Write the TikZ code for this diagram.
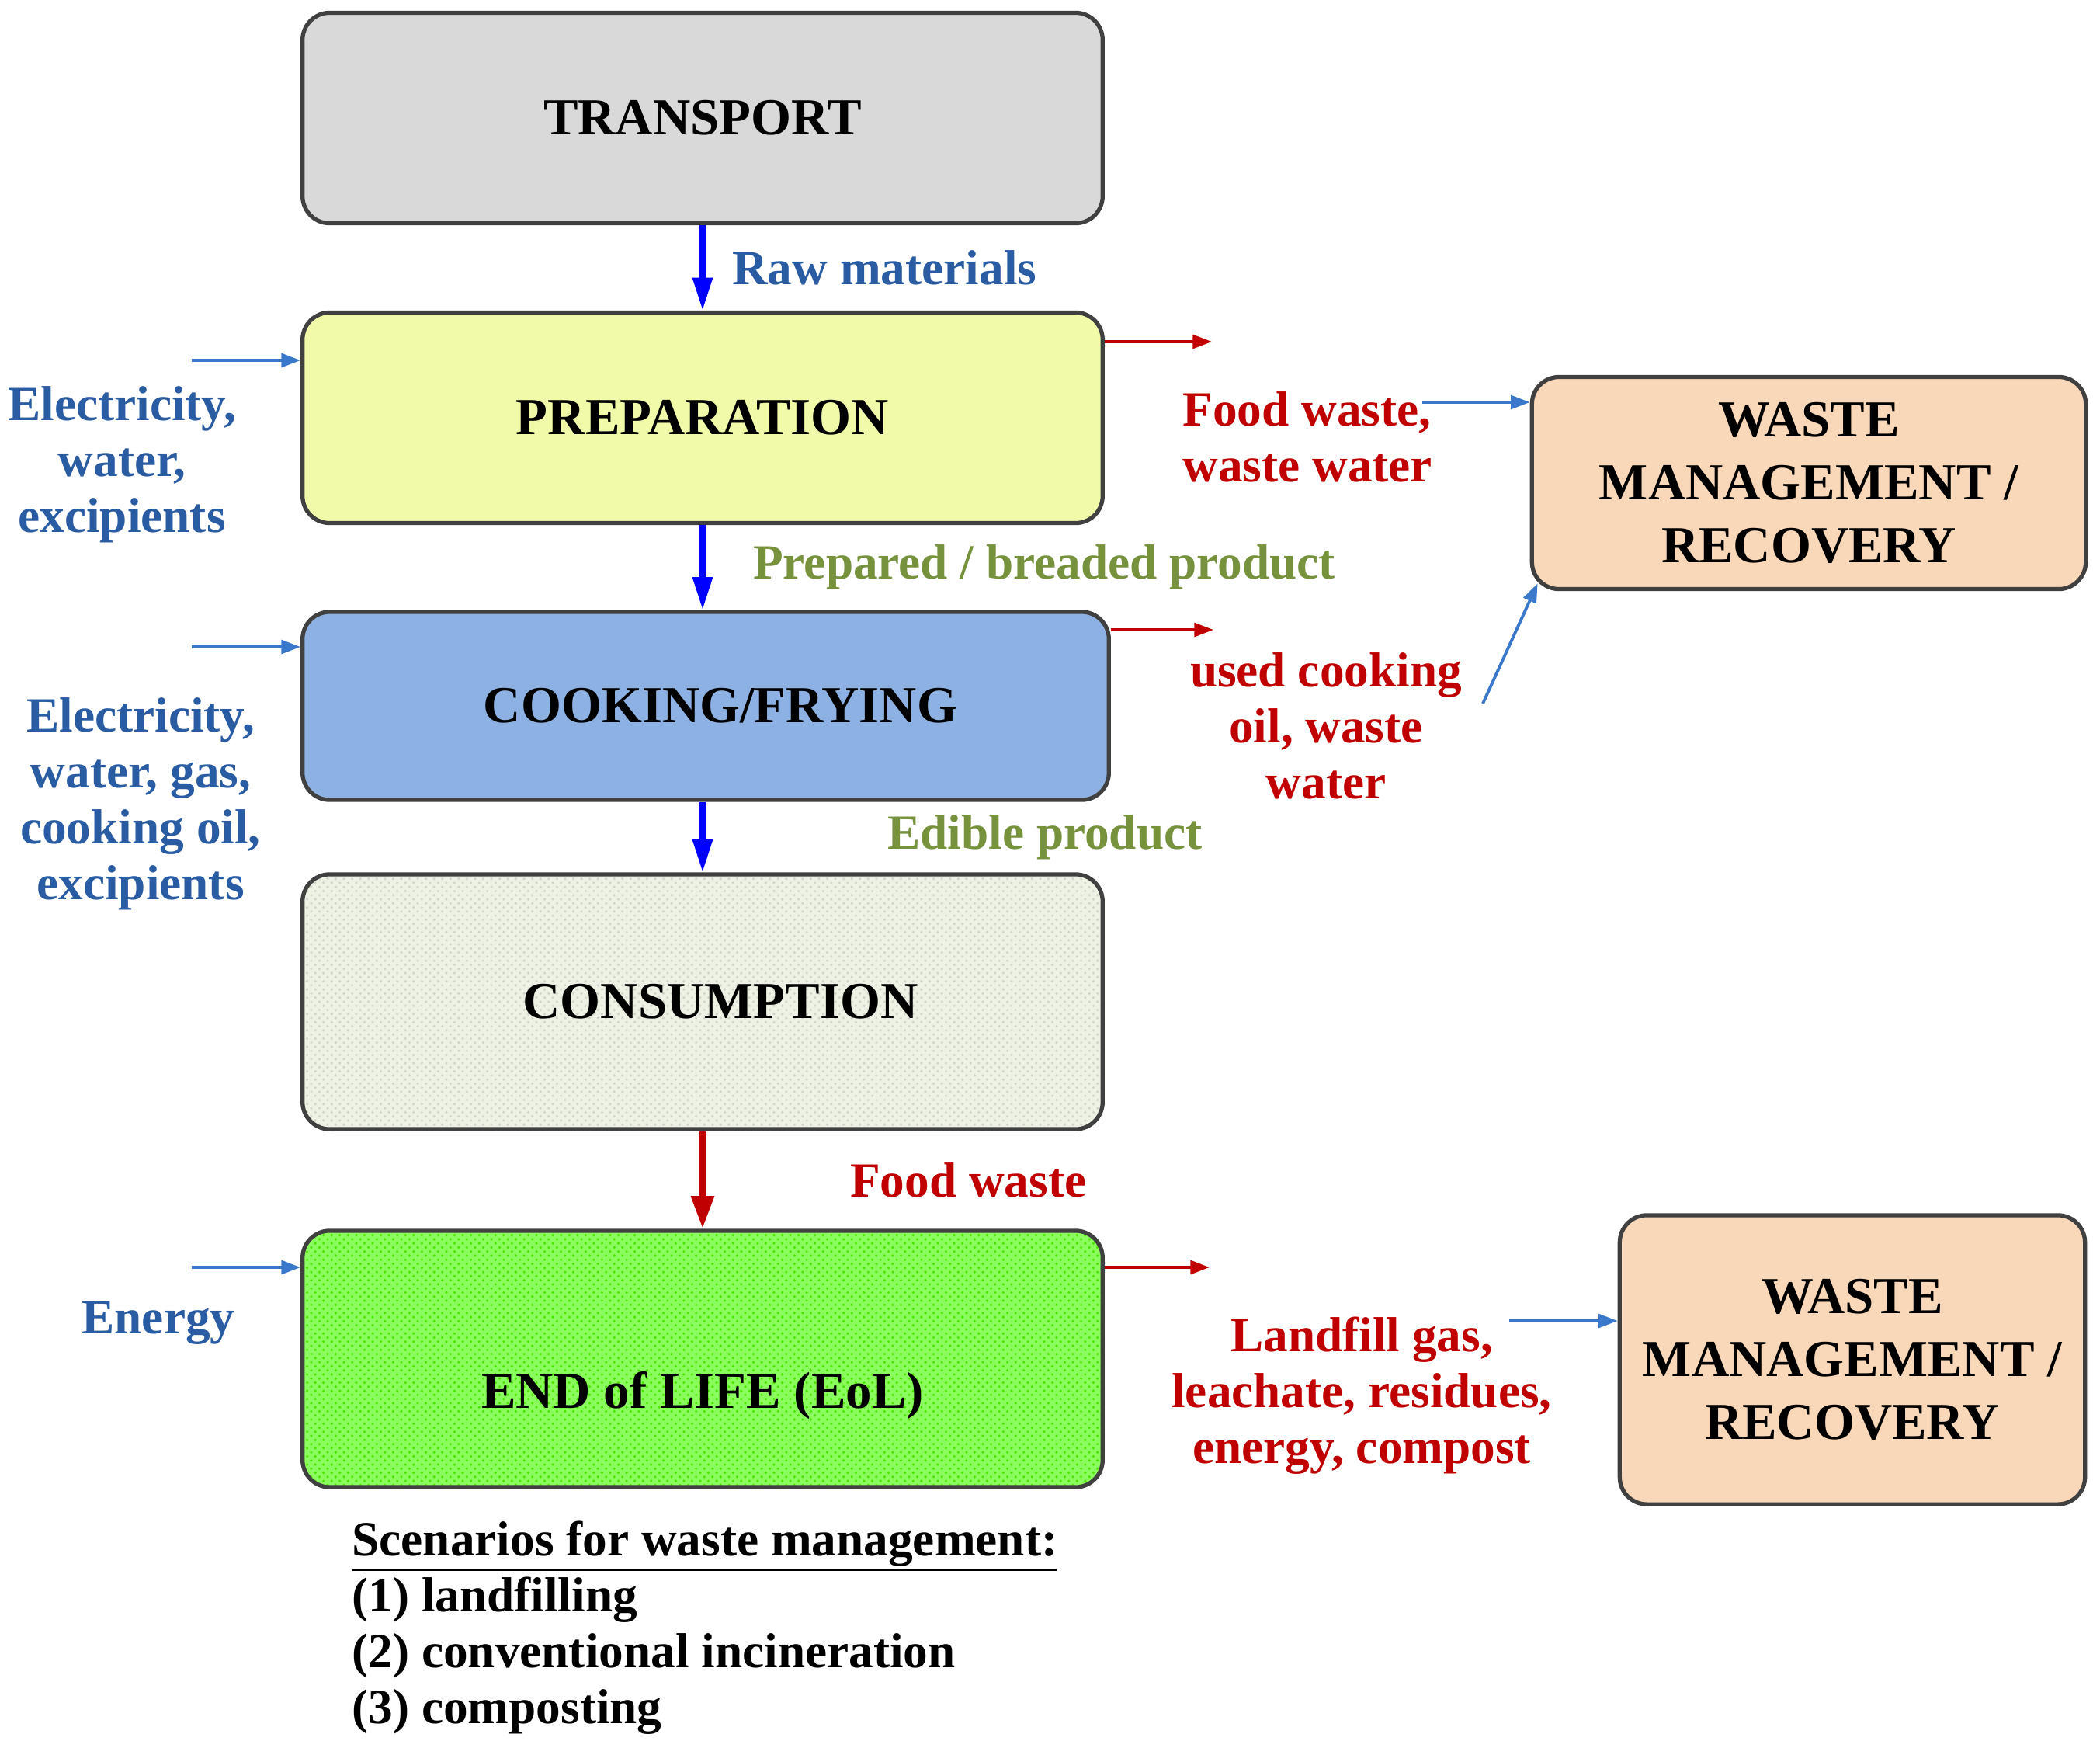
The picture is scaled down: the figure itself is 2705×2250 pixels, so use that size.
\documentclass[tikz,border=0pt]{standalone}
\usepackage{fontspec}
\setmainfont{Liberation Serif}
\usetikzlibrary{arrows.meta,patterns}

\definecolor{boxline}{HTML}{404040}
\definecolor{transgray}{HTML}{D9D9D9}
\definecolor{prepyellow}{HTML}{F1FAA8}
\definecolor{cookblue}{HTML}{8DB1E2}
\definecolor{conspale}{HTML}{EEF2E4}
\definecolor{eolgreen}{HTML}{8AFC5E}
\definecolor{wmpeach}{HTML}{F9D7B9}
\definecolor{flowblue}{HTML}{0000FF}
\definecolor{inblue}{HTML}{3A78CC}
\definecolor{txtblue}{HTML}{2A5CA3}
\definecolor{outred}{HTML}{C00000}
\definecolor{prodolive}{HTML}{76923C}

\begin{document}
\begin{tikzpicture}[x=0.01cm,y=-0.01cm,
    stage/.style={draw=boxline, line width=1.5pt, rounded corners=0.35cm, align=center,
        font=\fontsize{19}{23}\selectfont\bfseries},
    flow/.style={flowblue, line width=2pt, -{Triangle[length=12pt,width=7pt]}},
    inflow/.style={inblue, line width=1.1pt, -{Triangle[length=7pt,width=5pt]}},
    outflow/.style={outred, line width=1.1pt, -{Triangle[length=7pt,width=5pt]}},
    lbl/.style={align=center, font=\fontsize{18}{20.5}\selectfont\bfseries}]
    \useasboundingbox (0,0) rectangle (2705,2250);

    % life cycle stages
    \node[stage, fill=transgray, minimum width=10.3cm, minimum height=2.71cm] (transport) at (905,152) {TRANSPORT};
    \node[stage, fill=prepyellow, minimum width=10.3cm, minimum height=2.71cm] (prep) at (905,538) {PREPARATION};
    \node[stage, fill=cookblue, minimum width=10.38cm, minimum height=2.42cm] (cook) at (909,909) {\hspace*{0.38cm}COOKING/FRYING};
    \node[stage, preaction={fill=conspale}, preaction={pattern=crosshatch dots, pattern color=conspale!88!black},
        minimum width=10.3cm, minimum height=3.28cm] (cons) at (905,1290) {\hspace*{0.46cm}CONSUMPTION};
    \node[stage, preaction={fill=eolgreen}, preaction={pattern=crosshatch dots, pattern color=green!55!lime!90!black},
        minimum width=10.3cm, minimum height=3.3cm, text height=1.26cm, text depth=0pt] (eol) at (905,1750) {END of LIFE (EoL)};

    \node[stage, fill=wmpeach, minimum width=7.13cm, minimum height=2.73cm] (wm1) at (2330,622) {WASTE\\MANAGEMENT /\\RECOVERY};
    \node[stage, fill=wmpeach, minimum width=5.99cm, minimum height=3.72cm] (wm2) at (2386,1751) {WASTE\\MANAGEMENT /\\RECOVERY};

    % main flow
    \draw[flow] (transport) -- node[lbl, txtblue, anchor=west, xshift=0.23cm] (rawlbl) {Raw materials} (prep);
    \draw[flow] (prep.south) -- node[lbl, prodolive, anchor=west, xshift=0.5cm] (preplbl) {Prepared / breaded product} (prep.south |- cook.north);
    \draw[flow] (cons.north |- cook.south) -- node[lbl, prodolive, anchor=west, xshift=2.23cm] (ediblelbl) {Edible product} (cons.north);
    \draw[outred, line width=2.5pt, -{Triangle[length=12pt,width=8pt]}] (cons) -- node[lbl, outred, anchor=west, xshift=1.74cm] (foodlbl) {Food waste} (eol);

    % inputs
    \coordinate (inprep) at (247,464);
    \coordinate (incook) at (247,833);
    \coordinate (ineol) at (247,1632);
    \draw[inflow] (inprep) -- (inprep -| prep.west);
    \draw[inflow] (incook) -- (incook -| cook.west);
    \draw[inflow] (ineol) -- (ineol -| eol.west);
    \node[lbl, txtblue] (prepin) at (157,598) {Electricity,\\water,\\excipients};
    \node[lbl, txtblue] (cookin) at (181,1035) {Electricity,\\water, gas,\\cooking oil,\\excipients};
    \node[lbl, txtblue] (eolin) at (204,1704) {Energy};

    % outputs
    \coordinate (outprep) at (1561,440);
    \coordinate (outcook) at (1563,811);
    \coordinate (outeol) at (1558,1632);
    \draw[outflow] (outprep -| prep.east) -- (outprep);
    \draw[outflow] (outcook -| cook.east) -- (outcook);
    \draw[outflow] (outeol -| eol.east) -- (outeol);
    \node[lbl, outred, align=left, anchor=west] (prepout) at (1511,563) {Food waste,\\waste water};
    \node[lbl, outred] (cookout) at (1708,935) {used cooking\\oil, waste\\water};
    \node[lbl, outred] (eolout) at (1754,1797) {Landfill gas,\\leachate, residues,\\energy, compost};

    % to waste management
    \coordinate (towma) at (1832,518);
    \coordinate (towmb) at (1910,906);
    \coordinate (towmc) at (1944,1701);
    \draw[inflow] (towma) -- (towma -| wm1.west);
    \draw[inflow] (towmb) -- ([shift={(10,-10)}]wm1.south west);
    \draw[inflow] (towmc) -- (towmc -| wm2.west);

    \node[lbl, align=left, anchor=west] (scen) at (441,2096) {\underline{Scenarios for waste management:}\\(1) landfilling\\(2) conventional incineration\\(3) composting};
\end{tikzpicture}
\end{document}
